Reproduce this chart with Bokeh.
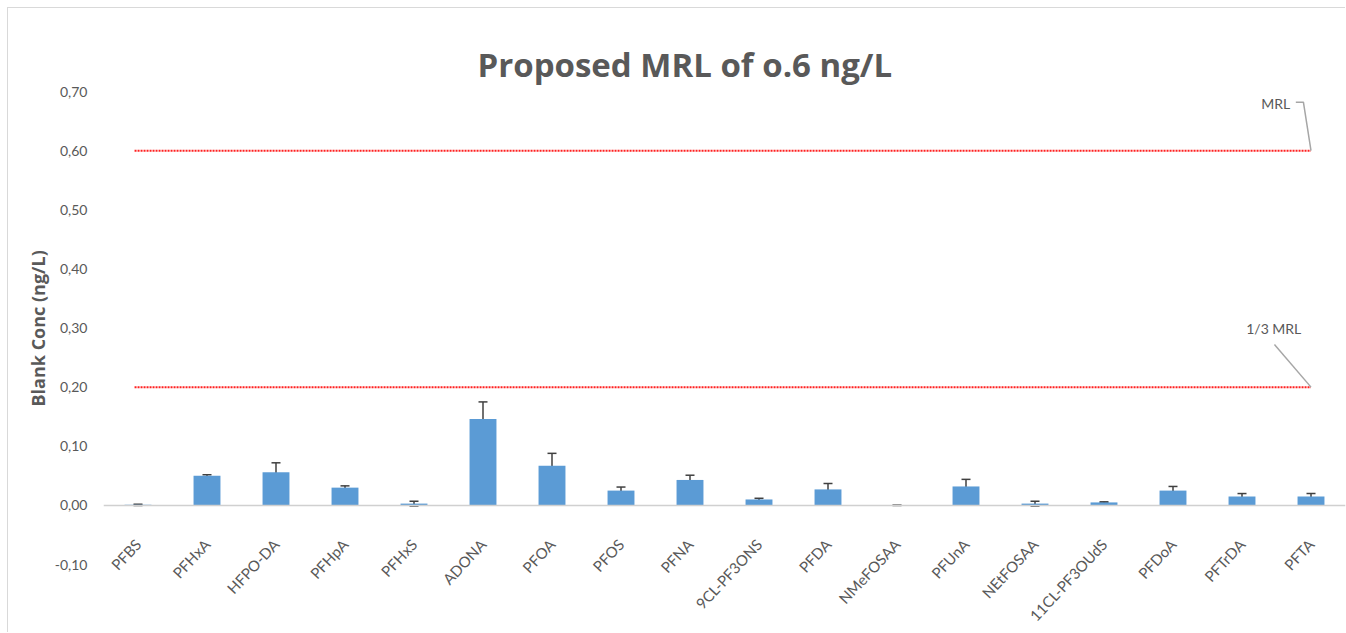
import numpy as np
from bokeh.plotting import figure
from bokeh.models import (FactorRange, Range1d, ColumnDataSource, Whisker, TeeHead,
                          CustomJSTickFormatter, FixedTicker, Title)
from bokeh.embed import file_html
from bokeh.resources import INLINE
from bokeh.core.properties import value

categories = ["PFBS", "PFHxA", "HFPO-DA", "PFHpA", "PFHxS", "ADONA", "PFOA", "PFOS",
              "PFNA", "9CL-PF3ONS", "PFDA", "NMeFOSAA", "PFUnA", "NEtFOSAA",
              "11CL-PF3OUdS", "PFDoA", "PFTrDA", "PFTA"]
blank_conc = [0.001, 0.050, 0.056, 0.030, 0.003, 0.146, 0.067, 0.025, 0.043, 0.010,
              0.027, 0.000, 0.032, 0.003, 0.005, 0.025, 0.015, 0.015]
error = [0.001, 0.002, 0.016, 0.003, 0.004, 0.029, 0.021, 0.006, 0.008, 0.002,
         0.010, 0.000, 0.012, 0.004, 0.001, 0.007, 0.005, 0.005]
y_ticks = [-0.10, 0.00, 0.10, 0.20, 0.30, 0.40, 0.50, 0.60, 0.70]
mrl = 0.6
third_mrl = mrl / 3
title_text = "Proposed MRL of o.6 ng/L"
y_label = "Blank Conc (ng/L)"

FONT = "Lato"
GRAY = "#595959"

src = ColumnDataSource(dict(
    cat=categories,
    val=blank_conc,
    upper=[v + e for v, e in zip(blank_conc, error)],
    lower=[v - e for v, e in zip(blank_conc, error)],
))

# frame: 0.70 at canvas y=83, 591.25 px per unit, frame extends to bottom of canvas
W, H = 1338, 625
top_b, bot_b = 83, 5
px_per_unit = 591.25
y_start = y_ticks[-1] - (H - top_b - bot_b) / px_per_unit

p = figure(width=W, height=H, x_range=FactorRange(factors=categories),
           y_range=Range1d(y_start, y_ticks[-1]),
           output_backend="svg", toolbar_location=None,
           min_border_left=95, min_border_right=1, min_border_top=top_b,
           min_border_bottom=bot_b)
p.styles = {"margin": "8px 0 0 8px", "box-shadow": "-1px -1px 0 #d9d9d9"}

p.title.text = title_text
p.title.align = "left"
p.title.offset = 374
p.title.text_font = "Open Sans"
p.title.text_font_size = "33px"
p.title.text_font_style = "bold"
p.title.text_color = GRAY

p.vbar(x="cat", top="val", width=0.39, source=src, fill_color="#5B9BD5", line_color=None)
p.add_layout(Whisker(source=src, base="cat", upper="upper", lower="lower",
                     line_color="#404040", line_width=1.5,
                     upper_head=TeeHead(size=9, line_color="#404040", line_width=1.5),
                     lower_head=TeeHead(size=9, line_color="#404040", line_width=1.5)))

# MRL reference lines
x0, x1 = 0.45, len(categories) - 0.5
for lvl in (mrl, third_mrl):
    p.line(x=[x0, x1], y=[lvl, lvl], line_color="#FF2020", line_width=2, line_dash="2 1")

# callouts
p.line(x=[x1 - 0.22, x1 - 0.11, x1], y=[mrl + 0.082, mrl + 0.082, mrl],
       line_color="#a6a6a6", line_width=1.5)
p.text(x=[x1 - 0.3], y=[mrl + 0.080], text=["MRL"], text_align="right",
       text_baseline="middle", text_font=value(FONT), text_font_size="14px", text_color=GRAY)
p.line(x=[x1 - 0.53, x1], y=[third_mrl + 0.072, third_mrl],
       line_color="#a6a6a6", line_width=1.5)
p.text(x=[x1 - 0.54], y=[third_mrl + 0.100], text=["1/3 MRL"], text_align="center",
       text_baseline="middle", text_font=value(FONT), text_font_size="14px", text_color=GRAY)

# y-axis title as a side title so it can be centred on the 0.70 .. -0.10 span
p.add_layout(Title(text=y_label, align="left", offset=222, standoff=3,
                   text_font="Open Sans", text_font_size="18px",
                   text_font_style="bold", text_color=GRAY), "left")

xa = p.xaxis[0]
xa.fixed_location = 0
xa.axis_line_color = "#d0d0d0"
xa.axis_line_width = 1.5
xa.major_tick_line_color = None
xa.minor_tick_line_color = None
xa.major_tick_out = 0
xa.major_tick_in = 0
xa.major_label_orientation = 0.82
xa.major_label_standoff = 36
xa.major_label_text_font = FONT
xa.major_label_text_font_size = "15px"
xa.major_label_text_color = GRAY

ya = p.yaxis[0]
ya.ticker = FixedTicker(ticks=y_ticks)
ya.formatter = CustomJSTickFormatter(code="return tick.toFixed(2).replace('.', ',');")
ya.axis_line_color = None
ya.major_tick_line_color = None
ya.minor_tick_line_color = None
ya.major_tick_out = 0
ya.major_tick_in = 0
ya.major_label_standoff = 16
ya.major_label_text_font = FONT
ya.major_label_text_font_size = "14px"
ya.major_label_text_color = GRAY

p.xgrid.visible = False
p.ygrid.visible = False
p.outline_line_color = None

open("out.html", "w").write(file_html(p, INLINE))
